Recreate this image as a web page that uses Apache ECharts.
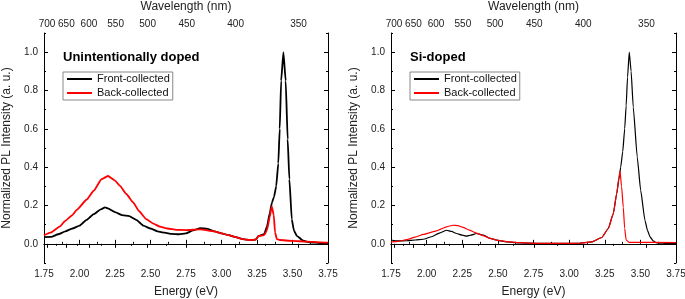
<!DOCTYPE html>
<html>
<head>
<meta charset="utf-8">
<script src="https://cdn.jsdelivr.net/npm/echarts@6/dist/echarts.min.js"></script>
<style>
  html, body { margin: 0; padding: 0; background: #fff; }
  #main { width: 685px; height: 299px; }
</style>
</head>
<body>
<div id="main"></div>
<script>
// energy (eV) , normalized intensity
var leftFront = [[1.75,0.035],[1.80,0.036],[1.85,0.05],[1.90,0.065],[1.95,0.08],[2.00,0.095],[2.05,0.125],[2.10,0.155],[2.15,0.18],[2.18,0.19],[2.20,0.185],[2.25,0.165],[2.30,0.15],[2.35,0.145],[2.40,0.125],[2.45,0.095],[2.50,0.08],[2.55,0.065],[2.60,0.058],[2.65,0.052],[2.70,0.05],[2.75,0.055],[2.80,0.07],[2.85,0.082],[2.90,0.078],[2.95,0.065],[3.00,0.055],[3.05,0.045],[3.10,0.035],[3.15,0.025],[3.20,0.02],[3.24,0.022],[3.26,0.04],[3.30,0.05],[3.32,0.09],[3.34,0.16],[3.355,0.215],[3.37,0.245],[3.385,0.3],[3.40,0.42],[3.41,0.6],[3.42,0.85],[3.436,1.0],[3.452,0.85],[3.466,0.545],[3.478,0.337],[3.495,0.128],[3.51,0.07],[3.53,0.042],[3.576,0.016],[3.62,0.008],[3.70,0.004],[3.75,0.003]];
var leftBack = [[1.75,0.045],[1.80,0.06],[1.86,0.09],[1.90,0.12],[1.95,0.15],[1.98,0.177],[2.05,0.23],[2.10,0.277],[2.155,0.337],[2.20,0.354],[2.25,0.33],[2.285,0.302],[2.33,0.26],[2.378,0.216],[2.42,0.17],[2.47,0.129],[2.52,0.105],[2.566,0.09],[2.62,0.08],[2.683,0.073],[2.75,0.072],[2.85,0.075],[2.95,0.065],[3.00,0.055],[3.05,0.045],[3.10,0.035],[3.15,0.025],[3.20,0.02],[3.24,0.022],[3.26,0.04],[3.30,0.045],[3.32,0.07],[3.34,0.14],[3.354,0.195],[3.368,0.15],[3.377,0.06],[3.39,0.025],[3.41,0.02],[3.50,0.015],[3.60,0.012],[3.70,0.008],[3.75,0.006]];
var rightFront = [[1.75,0.02],[1.80,0.015],[1.86,0.016],[1.92,0.02],[1.977,0.024],[2.035,0.037],[2.094,0.057],[2.14,0.071],[2.175,0.065],[2.21,0.054],[2.25,0.045],[2.28,0.04],[2.31,0.045],[2.35,0.054],[2.40,0.045],[2.445,0.028],[2.50,0.018],[2.56,0.01],[2.65,0.005],[2.80,0.002],[3.00,0.002],[3.064,0.003],[3.158,0.01],[3.229,0.033],[3.275,0.08],[3.31,0.158],[3.334,0.262],[3.35,0.34],[3.362,0.4],[3.376,0.48],[3.39,0.6],[3.40,0.72],[3.41,0.87],[3.422,1.0],[3.435,0.9],[3.45,0.714],[3.478,0.453],[3.502,0.28],[3.532,0.123],[3.55,0.07],[3.568,0.036],[3.59,0.015],[3.615,0.005],[3.70,0.001],[3.75,0.001]];
var rightBack = [[1.75,0.01],[1.80,0.013],[1.86,0.022],[1.92,0.035],[1.977,0.049],[2.07,0.068],[2.14,0.089],[2.185,0.097],[2.22,0.095],[2.255,0.086],[2.30,0.072],[2.34,0.059],[2.40,0.042],[2.445,0.028],[2.50,0.018],[2.56,0.012],[2.65,0.006],[2.80,0.002],[3.00,0.002],[3.064,0.003],[3.158,0.01],[3.229,0.033],[3.275,0.08],[3.31,0.158],[3.334,0.262],[3.35,0.349],[3.357,0.379],[3.368,0.3],[3.38,0.19],[3.39,0.08],[3.40,0.02],[3.42,0.008],[3.75,0.006]];

var wlMajor = [700, 650, 600, 550, 500, 450, 400, 350];
var wlMinor = [675, 625, 575, 525, 475, 425, 375];
var yMajor = [0, 0.2, 0.4, 0.6, 0.8, 1.0];
var yMinor = [-0.1, 0.1, 0.3, 0.5, 0.7, 0.9, 1.1];
var panelTitles = ['Unintentionally doped', 'Si-doped'];
var seriesNames = ['Front-collected', 'Back-collected'];

var HC = 1239.84;
var FONT = 'Liberation Sans, Arial, sans-serif';
var lineStyle = { color: '#000', width: 1 };

function toE(w) { return HC / w; }

var grids = [
  { left: 44, top: 33, width: 284, height: 230, outerBoundsMode: 'none' },
  { left: 391, top: 33, width: 285, height: 230, outerBoundsMode: 'none' }
];

var xAxes = [], yAxes = [];
grids.forEach(function (g, gi) {
  // bottom energy axis
  xAxes.push({
    gridIndex: gi, type: 'value', position: 'bottom', min: 1.75, max: 3.75, interval: 0.25,
    name: 'Energy (eV)', nameLocation: 'middle', nameGap: 23,
    nameTextStyle: { fontFamily: FONT, fontSize: 12, color: '#222' },
    axisLine: { lineStyle: lineStyle },
    axisTick: { inside: true, length: 4, lineStyle: lineStyle },
    minorTick: { show: true, splitNumber: 2, length: 2, lineStyle: lineStyle },
    axisLabel: { margin: 6, fontFamily: FONT, fontSize: 10, color: '#222',
      formatter: function (v) { return v.toFixed(2); } },
    splitLine: { show: false }
  });
  // top wavelength axis, major
  xAxes.push({
    gridIndex: gi, type: 'value', position: 'top', min: 1.75, max: 3.75,
    name: 'Wavelength (nm)', nameLocation: 'middle', nameGap: 20,
    nameTextStyle: { fontFamily: FONT, fontSize: 12, color: '#222' },
    axisLine: { lineStyle: lineStyle },
    axisTick: { inside: true, length: 4, lineStyle: lineStyle, customValues: wlMajor.map(toE) },
    axisLabel: { margin: 4, fontFamily: FONT, fontSize: 10, color: '#222', customValues: wlMajor.map(toE),
      formatter: function (v) { return Math.round(HC / v); } },
    splitLine: { show: false }
  });
  // top wavelength axis, minor
  xAxes.push({
    gridIndex: gi, type: 'value', position: 'top', min: 1.75, max: 3.75,
    axisLine: { show: false },
    axisTick: { inside: true, length: 2, lineStyle: lineStyle, customValues: wlMinor.map(toE) },
    axisLabel: { show: false },
    splitLine: { show: false }
  });
  // left y, labels + major ticks
  yAxes.push({
    gridIndex: gi, type: 'value', position: 'left', min: -0.1, max: 1.1,
    name: 'Normalized PL Intensity (a. u.)', nameLocation: 'middle', nameGap: 31,
    nameTextStyle: { fontFamily: FONT, fontSize: 12, color: '#222' },
    axisLine: { show: true, lineStyle: lineStyle },
    axisTick: { show: true, inside: true, length: 4, lineStyle: lineStyle, customValues: yMajor },
    axisLabel: { margin: 6, fontFamily: FONT, fontSize: 10, color: '#222', customValues: yMajor,
      formatter: function (v) { return v.toFixed(1); } },
    splitLine: { show: false }
  });
  yAxes.push({
    gridIndex: gi, type: 'value', position: 'left', min: -0.1, max: 1.1,
    axisLine: { show: false },
    axisTick: { show: true, inside: true, length: 2, lineStyle: lineStyle, customValues: yMinor },
    axisLabel: { show: false }, splitLine: { show: false }
  });
  // right mirror
  yAxes.push({
    gridIndex: gi, type: 'value', position: 'right', min: -0.1, max: 1.1,
    axisLine: { show: true, lineStyle: lineStyle },
    axisTick: { show: true, inside: true, length: 4, lineStyle: lineStyle, customValues: yMajor },
    axisLabel: { show: false }, splitLine: { show: false }
  });
  yAxes.push({
    gridIndex: gi, type: 'value', position: 'right', min: -0.1, max: 1.1,
    axisLine: { show: false },
    axisTick: { show: true, inside: true, length: 2, lineStyle: lineStyle, customValues: yMinor },
    axisLabel: { show: false }, splitLine: { show: false }
  });
});

function mkSeries(name, data, gi, color, width) {
  return {
    name: name, type: 'line', data: data,
    xAxisIndex: gi * 3, yAxisIndex: gi * 4,
    symbol: 'none', smooth: 0.15, smoothMonotone: 'x',
    lineStyle: { color: color, width: width }, itemStyle: { color: color },
    z: name === 'Back-collected' ? 3 : 2,
    animation: false
  };
}

var chart = echarts.init(document.getElementById('main'));
var option = {
  animation: false,
  backgroundColor: '#fff',
  title: [
    { text: panelTitles[0], left: 59, top: 47, padding: 4,
      textStyle: { fontFamily: FONT, fontSize: 13, fontWeight: 'bold', color: '#000' } },
    { text: panelTitles[1], left: 406, top: 47, padding: 4,
      textStyle: { fontFamily: FONT, fontSize: 13, fontWeight: 'bold', color: '#000' } }
  ],
  legend: [
    { left: 63, top: 72, orient: 'vertical', data: seriesNames, icon: 'rect', itemWidth: 25, itemHeight: 2,
      itemGap: 2, padding: [1, 3, 1, 4], borderColor: '#888', borderWidth: 1,
      textStyle: { fontFamily: FONT, fontSize: 11, color: '#111', lineHeight: 12 } },
    { left: 410, top: 72, orient: 'vertical', data: seriesNames, icon: 'rect', itemWidth: 25, itemHeight: 2,
      itemGap: 2, padding: [1, 3, 1, 4], borderColor: '#888', borderWidth: 1,
      textStyle: { fontFamily: FONT, fontSize: 11, color: '#111', lineHeight: 12 } }
  ],
  grid: grids,
  xAxis: xAxes,
  yAxis: yAxes,
  series: [
    mkSeries(seriesNames[0], leftFront, 0, '#000', 1.8),
    mkSeries(seriesNames[1], leftBack, 0, '#ff0000', 1.8),
    mkSeries(seriesNames[0], rightFront, 1, '#000', 1.2),
    mkSeries(seriesNames[1], rightBack, 1, '#ff0000', 1.2)
  ]
};
chart.setOption(option);
</script>
</body>
</html>
